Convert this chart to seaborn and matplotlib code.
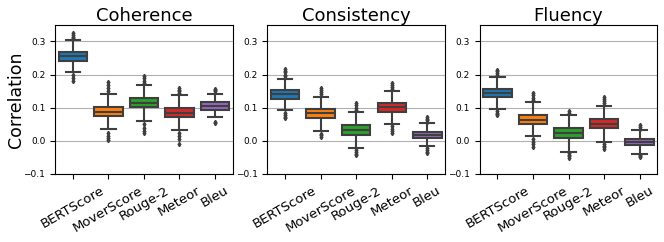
# ======== IMPORTS ========
import matplotlib
matplotlib.use("Agg")
import matplotlib.pyplot as plt
import pandas as pd
import seaborn as sns

# ======== DATA ========
ASPECTS = ["Coherence", "Consistency", "Fluency"]
METRICS = ["BERTScore", "MoverScore", "Rouge-2", "Meteor", "Bleu"]
COLORS = ["#1f77b4", "#ff7f0e", "#2ca02c", "#d62728", "#9467bd"]

# box stats per metric: lower whisker, q1, median, q3, upper whisker
COH_WLO = [0.207, 0.036, 0.060, 0.032, 0.072]
COH_Q1 = [0.242, 0.074, 0.101, 0.071, 0.094]
COH_MED = [0.255, 0.087, 0.115, 0.084, 0.106]
COH_Q3 = [0.268, 0.103, 0.129, 0.099, 0.116]
COH_WHI = [0.303, 0.142, 0.170, 0.139, 0.142]
COH_OUT = [
    [0.180, 0.190, 0.200, 0.310, 0.315, 0.320, 0.327],
    [0.002, 0.008, 0.015, 0.025, 0.150, 0.160, 0.170, 0.177],
    [0.024, 0.030, 0.040, 0.050, 0.175, 0.180, 0.190, 0.197],
    [-0.008, 0.005, 0.015, 0.025, 0.145, 0.150, 0.155, 0.160],
    [0.054, 0.058, 0.150, 0.153, 0.157],
]

CON_WLO = [0.093, 0.031, -0.023, 0.050, -0.016]
CON_Q1 = [0.127, 0.068, 0.018, 0.087, 0.008]
CON_MED = [0.140, 0.083, 0.032, 0.101, 0.017]
CON_Q3 = [0.154, 0.097, 0.047, 0.114, 0.027]
CON_WHI = [0.187, 0.133, 0.088, 0.152, 0.053]
CON_OUT = [
    [0.069, 0.073, 0.078, 0.084, 0.197, 0.200, 0.207, 0.212, 0.217],
    [0.011, 0.017, 0.022, 0.142, 0.148, 0.154, 0.160],
    [-0.044, -0.039, -0.033, -0.028, 0.093, 0.100, 0.107, 0.114],
    [0.024, 0.030, 0.037, 0.044, 0.157, 0.163, 0.170, 0.175],
    [-0.038, -0.033, -0.027, -0.022, 0.057, 0.062, 0.067, 0.071],
]

FLU_WLO = [0.097, 0.014, -0.033, -0.003, -0.040]
FLU_Q1 = [0.132, 0.051, 0.009, 0.038, -0.013]
FLU_MED = [0.145, 0.064, 0.024, 0.052, -0.004]
FLU_Q3 = [0.158, 0.078, 0.038, 0.067, 0.006]
FLU_WHI = [0.193, 0.117, 0.079, 0.106, 0.032]
FLU_OUT = [
    [0.077, 0.081, 0.085, 0.090, 0.200, 0.205, 0.210, 0.215],
    [-0.019, -0.010, -0.002, 0.007, 0.122, 0.130, 0.138, 0.146],
    [-0.052, -0.047, -0.042, -0.037, 0.085, 0.091],
    [-0.026, -0.020, -0.014, -0.008, 0.113, 0.119, 0.125, 0.131],
    [-0.050, -0.047, -0.043, 0.037, 0.042, 0.048],
]

PANELS = [
    (COH_WLO, COH_Q1, COH_MED, COH_Q3, COH_WHI, COH_OUT),
    (CON_WLO, CON_Q1, CON_MED, CON_Q3, CON_WHI, CON_OUT),
    (FLU_WLO, FLU_Q1, FLU_MED, FLU_Q3, FLU_WHI, FLU_OUT),
]

# repeat the quartiles so the boxplot computes exactly these stats
N_REP = 20


def build_frame(wlo, q1, med, q3, whi, out):
    rows = []
    for i, m in enumerate(METRICS):
        vals = [wlo[i], whi[i]] + out[i]
        vals += [q1[i]] * N_REP + [med[i]] * N_REP + [q3[i]] * N_REP
        rows += [(m, v) for v in vals]
    return pd.DataFrame(rows, columns=["metric", "corr"])


# ======== PLOT ========
fig, axes = plt.subplots(1, 3, figsize=(6.64, 2.42), dpi=100)
fig.subplots_adjust(left=0.083, right=0.99, bottom=0.281, top=0.897, wspace=0.195)

flier_style = {"marker": "d", "markersize": 2.2,
               "markerfacecolor": "#3f3f3f", "markeredgecolor": "#3f3f3f"}

for ax, aspect, stats in zip(axes, ASPECTS, PANELS):
    df = build_frame(*stats)
    ax.grid(axis="y", color="#b0b0b0", linewidth=0.8, zorder=0)
    ax.set_axisbelow(True)
    sns.boxplot(data=df, x="metric", y="corr", hue="metric", order=METRICS,
                palette=COLORS, saturation=1, linecolor="#3f3f3f", linewidth=1.5,
                width=0.8, flierprops=flier_style, legend=False, ax=ax)
    ax.set_ylim(-0.1, 0.35)
    ax.set_yticks([-0.1, 0.0, 0.1, 0.2, 0.3])
    ax.tick_params(axis="y", labelsize=6.5)
    ax.tick_params(axis="x", labelsize=9.5, rotation=30)
    ax.set_title(aspect, fontsize=13, pad=3)
    ax.set_xlabel("")
    ax.set_ylabel("")

axes[0].set_ylabel("Correlation", fontsize=12.5, labelpad=-1)

plt.savefig("out.png", dpi=100)
